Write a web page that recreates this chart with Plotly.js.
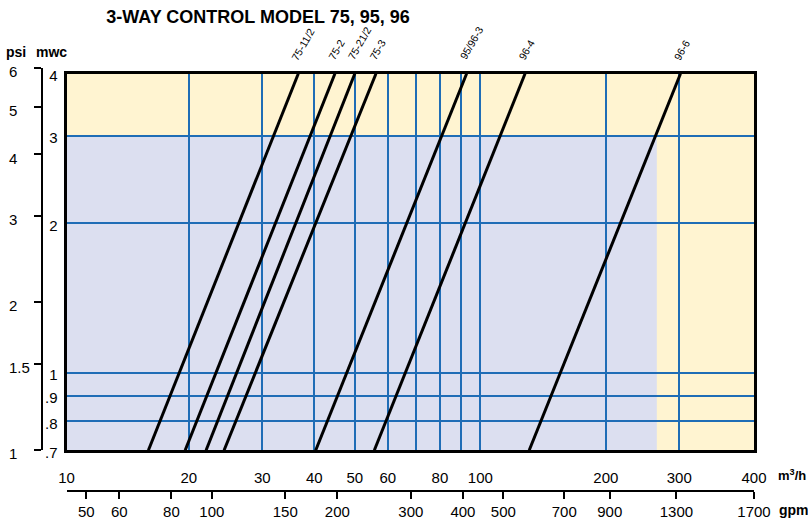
<!DOCTYPE html>
<html>
<head>
<meta charset="utf-8">
<script src="https://cdn.plot.ly/plotly-3.0.1.min.js"></script>
<style>
html,body{margin:0;padding:0;background:#ffffff;}
#chart{width:808px;height:527px;}
</style>
</head>
<body>
<div id="chart"></div>
<script>
// ---------------- data ----------------
const valveModels    = ['75-11/2', '75-2', '75-21/2', '75-3', '95/96-3', '96-4', '96-6'];
const flowAtMinHead  = [16.0, 19.6, 22.0, 24.3, 40.3, 55.7, 131];   // m3/h at 0.7 mwc
const flowAtMaxHead  = [36.6, 44.8, 50.0, 56.2, 92.7, 128, 302];    // m3/h at 4 mwc
const headMin = 0.7;   // mwc
const headMax = 4;     // mwc

const mwcTickVals  = [0.7, 0.8, 0.9, 1, 2, 3, 4];
const mwcTickText  = ['.7', '.8', '.9', '1', '2', '3', '4'];
const psiTickVals  = [1, 1.5, 2, 3, 4, 5, 6];
const psiTickText  = ['1', '1.5', '2', '3', '4', '5', '6'];
const flowGridVals = [20, 30, 40, 50, 60, 70, 80, 90, 100, 200, 300];
const flowInnerLabelVals = [20, 30, 40, 50, 60, 80, 100, 200, 300];
const flowLabelText = ['10', '20', '30', '40', '50', '60', '80', '100', '200', '300', '400'];
const gpmInnerLabelVals = [50, 60, 80, 100, 150, 200, 300, 400, 500, 700, 900, 1300];
const gpmLabelText = ['50', '60', '80', '100', '150', '200', '300', '400', '500', '700', '900', '1300', '1700'];
const yellowZoneFlow = 265;  // m3/h, start of right yellow band
const yellowZoneHead = 3;    // mwc, start of top yellow band
const M3H_TO_GPM = 4.403;

// ---------------- layout constants ----------------
const FONT = '"Liberation Sans Narrow", "Arial Narrow", "Liberation Sans", Arial, sans-serif';
const BLUE = '#1f6db6';
const LAVENDER = '#dcdff0';
const YELLOW = '#fff4d1';
const X_RANGE = [1.0077, 2.6563];
const Y_RANGE = [Math.log10(headMin), Math.log10(headMax)];
const PSI_RANGE = [0, Math.log10(6)];
const flowEdgeLow = Math.pow(10, X_RANGE[0]);
const flowEdgeHigh = Math.pow(10, X_RANGE[1]);
const flowLabelVals = [flowEdgeLow].concat(flowInnerLabelVals, [flowEdgeHigh]);
const gpmLabelVals = gpmInnerLabelVals.concat([flowEdgeHigh * M3H_TO_GPM]);
const GPM_RANGE = [X_RANGE[0] + Math.log10(M3H_TO_GPM), X_RANGE[1] + Math.log10(M3H_TO_GPM)];

const W = 808, H = 527;
const M = {l: 0, r: 54, t: 68, b: 27};
const PW = W - M.l - M.r, PH = H - M.t - M.b;
const px2x = p => (p - M.l) / PW;
const py2y = p => (H - M.b - p) / PH;

// ---------------- traces ----------------
const traces = valveModels.map((name, i) => ({
  type: 'scatter', mode: 'lines', name: name,
  x: [flowAtMinHead[i], flowAtMaxHead[i]],
  y: [headMin, headMax],
  xaxis: 'x', yaxis: 'y',
  line: {color: '#000000', width: 3},
  hoverinfo: 'x+y+name', showlegend: false
}));
// empty helper traces that bind the auxiliary axes
[['x2', 'y'], ['x3', 'y'], ['x4', 'y2'], ['x4', 'y3']].forEach(([xa, ya]) => {
  traces.push({type: 'scatter', mode: 'markers', x: [], y: [], xaxis: xa, yaxis: ya,
               hoverinfo: 'skip', showlegend: false});
});

// ---------------- annotations ----------------
const annotations = valveModels.map((name, i) => ({
  x: Math.log10(flowAtMaxHead[i]), y: Math.log10(headMax), xref: 'x', yref: 'y',
  text: name, showarrow: false, textangle: -60,
  xanchor: 'left', yanchor: 'bottom', xshift: -12, yshift: 9,
  font: {family: FONT, size: 10.5, color: '#000'}
}));
const axisTitleFont = {family: FONT, size: 14, color: '#000'};
annotations.push(
  {x: px2x(16), y: py2y(52), xref: 'paper', yref: 'paper', text: '<b>psi</b>', showarrow: false,
   xanchor: 'center', yanchor: 'middle', font: axisTitleFont},
  {x: px2x(51), y: py2y(52), xref: 'paper', yref: 'paper', text: '<b>mwc</b>', showarrow: false,
   xanchor: 'center', yanchor: 'middle', font: axisTitleFont},
  {x: px2x(776), y: py2y(475), xref: 'paper', yref: 'paper', text: '<b>m<sup>3</sup>/h</b>', showarrow: false,
   xanchor: 'left', yanchor: 'middle', font: {family: FONT, size: 13, color: '#000'}},
  {x: px2x(777), y: py2y(510), xref: 'paper', yref: 'paper', text: '<b>gpm</b>', showarrow: false,
   xanchor: 'left', yanchor: 'middle', font: axisTitleFont}
);

// ---------------- shapes (background zones) ----------------
const shapes = [
  {type: 'rect', layer: 'below', xref: 'x domain', yref: 'y domain', x0: 0, x1: 1, y0: 0, y1: 1,
   fillcolor: LAVENDER, line: {width: 0}},
  {type: 'rect', layer: 'below', xref: 'x domain', yref: 'y', x0: 0, x1: 1, y0: yellowZoneHead, y1: headMax,
   fillcolor: YELLOW, line: {width: 0}},
  {type: 'rect', layer: 'below', xref: 'x', yref: 'y', x0: yellowZoneFlow, x1: flowEdgeHigh, y0: headMin, y1: headMax,
   fillcolor: YELLOW, line: {width: 0}}
];

const xDomain = [px2x(66.5), 1];
const tickFont = {family: FONT, size: 15, color: '#000'};

const layout = {
  width: W, height: H, margin: M,
  paper_bgcolor: '#ffffff', plot_bgcolor: 'rgba(0,0,0,0)',
  showlegend: false,
  font: {family: FONT, color: '#000'},
  title: {text: '<b>3-WAY CONTROL MODEL 75, 95, 96</b>', xref: 'container', yref: 'container',
          x: 258 / W, xanchor: 'center', y: 1 - 17 / H, yanchor: 'middle',
          font: {family: FONT, size: 18, color: '#000'}},
  xaxis: {type: 'log', domain: xDomain, range: X_RANGE, tickvals: flowGridVals,
          showticklabels: false, ticks: '', showgrid: true, gridcolor: BLUE, gridwidth: 2,
          showline: true, mirror: true, linewidth: 3, linecolor: '#000', zeroline: false, fixedrange: true},
  yaxis: {type: 'log', domain: [py2y(450.3), py2y(73.7)], range: Y_RANGE,
          tickvals: mwcTickVals, ticktext: mwcTickText, ticks: '', tickfont: tickFont,
          ticklabelstandoff: 3, ticklabelshift: 2, showgrid: true, gridcolor: BLUE, gridwidth: 2,
          showline: true, mirror: true, linewidth: 3, linecolor: '#000', zeroline: false, fixedrange: true},
  xaxis2: {type: 'log', overlaying: 'x', anchor: 'free', position: py2y(491), side: 'bottom',
           range: GPM_RANGE, tickvals: gpmLabelVals, ticktext: gpmLabelText, tickfont: tickFont,
           ticks: 'outside', ticklen: 7, tickwidth: 2, tickcolor: '#000',
           showline: true, linewidth: 2, linecolor: '#000', showgrid: false, zeroline: false, fixedrange: true},
  xaxis3: {type: 'log', overlaying: 'x', anchor: 'y', side: 'bottom', range: X_RANGE,
           tickvals: flowLabelVals, ticktext: flowLabelText, tickfont: tickFont,
           ticks: '', ticklabelstandoff: 17, showline: false, showgrid: false, zeroline: false, fixedrange: true},
  xaxis4: {type: 'log', domain: xDomain, range: X_RANGE, visible: false, showgrid: false, fixedrange: true, anchor: 'y2'},
  yaxis2: {type: 'log', domain: [py2y(450), py2y(68)], anchor: 'free', position: px2x(42), side: 'left',
           range: PSI_RANGE, tickvals: psiTickVals, showticklabels: false,
           ticks: 'outside', ticklen: 7, tickwidth: 2, tickcolor: '#000',
           showline: true, linewidth: 2, linecolor: '#000', showgrid: false, zeroline: false, fixedrange: true},
  yaxis3: {type: 'log', overlaying: 'y2', anchor: 'free', position: px2x(8), side: 'right',
           range: PSI_RANGE, tickvals: psiTickVals, ticktext: psiTickText, tickfont: tickFont,
           ticklabelshift: 4,
           ticks: '', showline: false, showgrid: false, zeroline: false, fixedrange: true},
  shapes: shapes,
  annotations: annotations
};

Plotly.newPlot('chart', traces, layout, {displayModeBar: false, staticPlot: true});
</script>
</body>
</html>
